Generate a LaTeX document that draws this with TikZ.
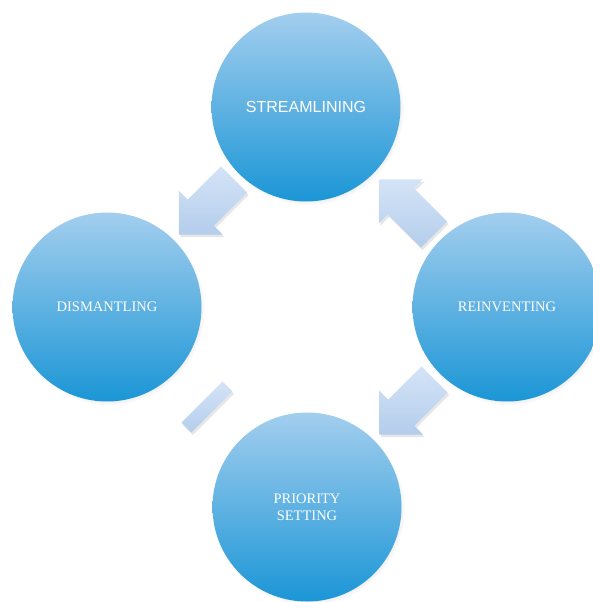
\documentclass[tikz,border=0pt]{standalone}
\usepackage{fontspec}
\newfontfamily\labelsans{Liberation Sans}
\newfontfamily\labelserif{Liberation Serif}
\usetikzlibrary{calc,shadows}
\definecolor{circletop}{RGB}{163,206,238}
\definecolor{circlebottom}{RGB}{27,150,214}
\definecolor{arrowlight}{RGB}{212,228,247}
\definecolor{arrowdark}{RGB}{180,205,236}
\begin{document}
\begin{tikzpicture}[x=1pt,y=-1pt,
  phase/.style={circle,minimum size=189pt,inner sep=0pt,
    top color=circletop,bottom color=circlebottom,text=white,align=center,
    circular drop shadow={shadow scale=1.02,shadow xshift=1.5pt,shadow yshift=-2pt,opacity=0.35}},
  seriflabel/.style={font=\labelserif\fontsize{14.5}{17}\selectfont},
  cyclearrow/.style={top color=arrowlight,bottom color=arrowdark,
    drop shadow={opacity=0.2,shadow xshift=1.5pt,shadow yshift=-2.5pt}}]
\useasboundingbox (0,0) rectangle (592,602);
% the four phases
\node [phase,font=\labelsans\fontsize{16}{19}\selectfont] (streamlining) at (306,107) {STREAMLINING};
\node [phase,seriflabel] (dismantling) at (107,307) {DISMANTLING};
\node [phase,seriflabel] (reinventing) at (507,307) {REINVENTING};
\node [phase,seriflabel] (prioritysetting) at (307,507) {PRIORITY\\SETTING};
% arrows between them
\path [cyclearrow,shift={($(streamlining)!0.5!(dismantling)$)},rotate=225]
  (-39,-18.5) -- (8,-18.5) -- (8,-31) -- (39,0) -- (8,31) -- (8,18.5) -- (-39,18.5) -- cycle;
\path [cyclearrow,shift={($(reinventing)!0.5!(streamlining)$)},rotate=135]
  (-39,-18.5) -- (8,-18.5) -- (8,-31) -- (39,0) -- (8,31) -- (8,18.5) -- (-39,18.5) -- cycle;
\path [cyclearrow,shift={($(reinventing)!0.5!(prioritysetting)$)},rotate=225]
  (-39,-18.5) -- (8,-18.5) -- (8,-31) -- (39,0) -- (8,31) -- (8,18.5) -- (-39,18.5) -- cycle;
\path [cyclearrow,shift={($(prioritysetting)!0.5!(dismantling)$)},rotate=225]
  (-29,-7) rectangle (29,7);
\end{tikzpicture}
\end{document}
